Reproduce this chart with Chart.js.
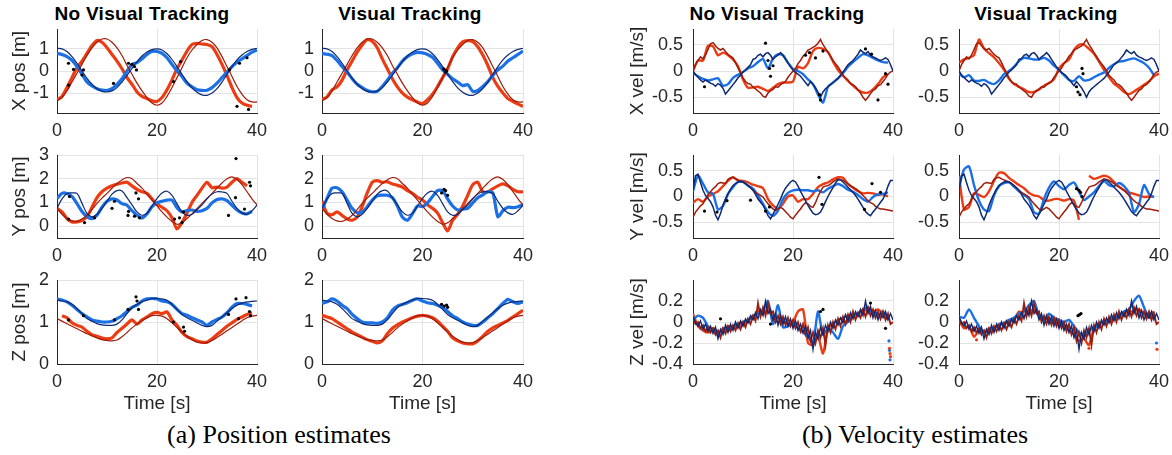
<!DOCTYPE html>
<html>
<head>
<meta charset="utf-8">
<script src="https://cdn.jsdelivr.net/npm/chart.js@4.4.1/dist/chart.umd.min.js"></script>
<style>
    body { margin: 0; background: #fff; width: 1172px; height: 455px; position: relative; overflow: hidden; }
    canvas { position: absolute; }
    .titulo { position: absolute; width: 300px; text-align: center; font: bold 19px "Liberation Sans", Arial, sans-serif; color: #000; line-height: 22px; letter-spacing: 0.3px; }
    .legenda { position: absolute; width: 400px; text-align: center; font: 26px "Liberation Serif", "Times New Roman", serif; color: #000; line-height: 28px; }
</style>
</head>
<body>
<div class="titulo" style="left:-8px;top:3px">No Visual Tracking</div>
<div class="titulo" style="left:260px;top:3px">Visual Tracking</div>
<div class="titulo" style="left:627px;top:3px">No Visual Tracking</div>
<div class="titulo" style="left:896px;top:3px">Visual Tracking</div>
<div class="legenda" style="left:79px;top:421px">(a) Position estimates</div>
<div class="legenda" style="left:715px;top:421px">(b) Velocity estimates</div>
<script>
// sample times (s)
var tempo1 = [];
for (var i = 0; i <= 40; i++) tempo1.push(i);
var tempo05 = [];
for (var j = 0; j <= 80; j++) tempo05.push(j / 2);

var xTicks = [0, 20, 40];

// ---------- position: ground truth (1 s) ----------
var posXTruthR = [-1.35,-1.2,-0.9,-0.5,-0.1,0.3,0.7,1.05,1.3,1.45,
    1.45,1.3,1.05,0.7,0.25,-0.15,-0.55,-0.9,-1.2,-1.45,
    -1.55,-1.45,-1.15,-0.75,-0.3,0.15,0.6,0.95,1.2,1.38,
    1.42,1.3,1.05,0.65,0.2,-0.25,-0.7,-1.05,-1.3,-1.4,
    -1.4];
var posXTruthB = [1.03,1.0,0.88,0.65,0.35,0.0,-0.33,-0.6,-0.8,-0.92,
    -0.95,-0.9,-0.75,-0.5,-0.2,0.12,0.42,0.68,0.86,0.97,
    1.0,0.95,0.78,0.52,0.2,-0.15,-0.48,-0.76,-0.96,-1.08,
    -1.1,-1.0,-0.8,-0.5,-0.15,0.2,0.5,0.72,0.88,0.98,
    1.03];
var posYTruthR = [0.75,0.5,0.32,0.22,0.2,0.3,0.46,0.7,0.96,1.18,
    1.38,1.6,1.8,1.95,2.05,2.0,1.8,1.6,1.35,1.1,
    0.85,0.6,0.38,0.2,0.08,0.14,0.32,0.52,0.75,0.96,
    1.17,1.38,1.6,1.82,2.0,2.08,1.97,1.75,1.45,1.15,
    0.89];
var posYTruthB = [0.75,1.15,1.38,1.4,1.38,0.96,0.54,0.39,0.5,0.75,
    1.05,1.35,1.5,1.48,1.2,0.9,0.6,0.46,0.55,0.85,
    1.17,1.4,1.47,1.3,0.95,0.6,0.46,0.5,0.7,0.9,
    1.15,1.35,1.45,1.44,1.38,1.05,0.75,0.56,0.5,0.65,
    0.89];
var posZTruthR = [1.08,1.02,0.96,0.9,0.84,0.78,0.72,0.67,0.62,0.58,
    0.56,0.55,0.57,0.65,0.75,0.86,0.95,1.03,1.1,1.15,
    1.16,1.14,1.08,0.98,0.87,0.76,0.66,0.58,0.52,0.5,
    0.51,0.56,0.63,0.71,0.79,0.87,0.95,1.03,1.1,1.14,
    1.16];
var posZTruthB = [1.52,1.5,1.48,1.42,1.32,1.2,1.08,1.02,0.96,0.93,
    0.92,0.92,0.95,1.05,1.2,1.34,1.42,1.48,1.52,1.56,
    1.56,1.55,1.52,1.42,1.3,1.18,1.1,1.04,0.98,0.92,
    0.89,0.92,1.02,1.12,1.22,1.32,1.4,1.45,1.48,1.49,
    1.5];

// ---------- position: estimates, no visual tracking (1 s) ----------
var posXnvR = [-1.3,-1.15,-0.75,-0.3,0.15,0.45,0.8,1.15,1.38,1.3,
    1.05,0.75,0.45,0.1,-0.3,-0.6,-0.95,-1.15,-1.25,-1.35,
    -1.38,-1.2,-0.85,-0.4,0.1,0.5,0.9,1.2,1.25,1.22,
    1.2,1.1,0.75,0.3,-0.2,-0.75,-1.2,-1.45,-1.55,-1.6,
    null];
var posXnvB = [0.8,0.75,0.65,0.48,0.2,-0.15,-0.5,-0.68,-0.8,-0.86,
    -0.88,-0.8,-0.6,-0.35,0.0,0.3,0.38,0.55,0.75,0.88,
    0.88,0.8,0.6,0.3,0.0,-0.25,-0.55,-0.72,-0.85,-0.88,
    -0.87,-0.75,-0.55,-0.3,-0.05,0.2,0.4,0.55,0.7,0.85,
    0.95];
var posYnvR = [0.75,0.6,0.32,0.18,0.18,0.25,0.39,0.8,1.2,1.45,
    1.6,1.7,1.77,1.82,1.85,1.7,1.55,1.45,1.38,1.15,
    0.92,0.8,0.65,0.35,-0.12,0.15,0.55,1.0,1.3,1.6,
    1.85,1.62,1.65,1.6,1.65,1.85,2.0,1.85,1.7,null,
    null];
var posYnvB = [1.17,1.38,1.38,1.25,0.95,0.62,0.4,0.32,0.46,0.8,
    1.05,1.15,1.1,0.95,0.88,0.65,0.46,0.35,0.52,0.82,
    0.98,1.05,1.1,1.1,0.78,0.6,0.66,0.68,0.62,0.65,
    0.75,0.98,1.12,1.15,1.08,0.88,0.68,0.55,0.52,0.62,
    null];
var posZnvR = [null,1.15,1.1,0.98,0.92,0.88,0.78,0.7,0.66,0.62,
    0.6,0.62,0.75,0.85,0.95,1.05,0.95,1.05,1.12,1.2,
    1.23,1.2,1.24,1.05,0.92,0.75,0.65,0.6,0.55,0.52,
    0.52,0.6,0.7,0.8,0.9,0.98,1.06,1.12,1.18,1.22,
    null];
var posZnvB = [1.55,1.52,1.48,1.4,1.3,1.2,1.12,1.05,1.02,1.0,
    1.0,1.02,1.08,1.15,1.25,1.35,1.4,1.5,1.55,1.56,
    1.55,1.5,1.48,1.42,1.3,1.2,1.16,1.1,1.05,1.0,
    0.92,1.0,1.06,1.12,1.22,1.35,1.44,1.44,1.42,1.38,
    null];

// ---------- position: estimates, visual tracking (1 s) ----------
var posXvtR = [-1.29,-1.17,-0.85,-0.72,-0.41,0.05,0.45,0.85,1.18,1.42,
    1.35,1.05,0.55,0.1,-0.35,-0.72,-1.0,-1.18,-1.3,-1.4,
    -1.47,-1.3,-1.05,-0.7,-0.3,0.1,0.65,1.05,1.32,1.37,
    1.33,1.1,0.72,0.25,-0.3,-0.7,-1.0,-1.25,-1.38,-1.5,
    -1.6];
var posXvtB = [0.8,0.76,0.7,0.48,0.2,-0.05,-0.35,-0.6,-0.75,-0.88,
    -0.94,-0.92,-0.7,-0.42,-0.1,0.15,0.45,0.65,0.78,0.84,
    0.82,0.75,0.62,0.35,0.05,-0.15,-0.35,-0.5,-0.66,-0.62,
    -0.92,-0.88,-0.7,-0.48,-0.2,0.05,0.22,0.45,0.6,0.75,
    0.9];
var posYvtR = [1.05,0.55,0.48,0.6,0.45,0.3,0.25,0.38,0.82,1.4,
    1.85,1.92,1.85,1.87,1.78,1.72,1.65,1.5,1.38,1.22,
    1.1,0.9,0.75,0.55,0.15,-0.2,0.25,0.5,0.85,1.3,
    1.75,1.85,1.45,1.45,1.58,1.7,1.78,1.7,1.55,1.45,
    1.45];
var posYvtB = [0.7,1.17,1.6,1.62,1.45,1.1,0.75,0.56,0.6,0.82,
    1.1,1.28,1.31,1.3,1.2,0.85,0.38,0.25,0.52,0.85,
    0.82,0.98,1.25,1.5,1.5,1.15,0.85,0.68,0.72,0.75,
    0.98,1.2,1.32,1.45,1.4,0.4,0.65,0.8,0.78,0.82,
    0.9];
var posZvtR = [1.16,1.12,1.08,1.0,0.92,0.84,0.76,0.7,0.64,0.58,
    0.54,0.5,0.55,0.72,0.85,0.93,1.0,1.05,1.1,1.14,
    1.16,1.14,1.1,1.02,0.9,0.78,0.62,0.55,0.5,0.48,
    0.48,0.55,0.66,0.78,0.86,0.92,0.98,1.04,1.12,1.2,
    1.28];
var posZvtB = [1.44,1.48,1.55,1.5,1.4,1.32,1.18,1.08,1.0,0.98,
    0.98,0.97,1.0,1.1,1.28,1.38,1.42,1.46,1.52,1.55,
    1.5,1.46,1.44,1.4,1.34,1.25,1.15,1.08,1.0,0.95,
    0.92,0.92,1.0,1.1,1.2,1.32,1.44,1.54,1.48,1.44,
    1.48];

// ---------- velocity: ground truth (0.5 s) ----------
var velXTruthR = [0,0.12,0.2,0.27,0.23,0.3,0.41,0.52,0.54,0.48,
    0.43,0.4,0.43,0.37,0.32,0.28,0.25,0.16,0.06,-0.03,
    -0.13,-0.2,-0.24,-0.25,-0.31,-0.34,-0.38,-0.42,-0.48,-0.5,
    -0.42,-0.38,-0.35,-0.3,-0.31,-0.26,-0.23,-0.2,-0.12,-0.06,
    0.0,0.05,0.14,0.2,0.28,0.33,0.4,0.42,0.45,0.48,
    0.53,0.6,0.5,0.43,0.35,0.28,0.2,0.14,0.08,0.0,
    -0.08,-0.13,-0.17,-0.24,-0.26,-0.3,-0.36,-0.42,-0.5,-0.56,
    -0.5,-0.43,-0.37,-0.34,-0.28,-0.26,-0.2,-0.14,-0.06,-0.02,
    0.0];
var velXTruthB = [0,-0.07,-0.12,-0.17,-0.21,-0.17,-0.2,-0.23,-0.25,-0.29,
    -0.24,-0.27,-0.33,-0.44,-0.38,-0.32,-0.26,-0.2,-0.13,-0.08,
    -0.02,0.02,0.07,0.12,0.22,0.24,0.3,0.32,0.27,0.33,
    0.35,0.3,0.22,0.27,0.3,0.35,0.3,0.22,0.15,0.08,
    0.02,-0.03,-0.06,-0.1,-0.16,-0.22,-0.28,-0.2,-0.26,-0.32,
    -0.4,-0.5,-0.4,-0.34,-0.3,-0.26,-0.22,-0.18,-0.14,-0.08,
    -0.02,0.05,0.12,0.16,0.2,0.26,0.32,0.4,0.36,0.33,
    0.37,0.3,0.27,0.25,0.22,0.2,0.22,0.25,0.22,0.12,
    0.0];
var velYTruthR = [-0.4,-0.3,-0.24,-0.18,-0.14,-0.05,0.04,0.09,0.15,0.19,
    0.25,0.27,0.26,0.25,0.33,0.36,0.37,0.34,0.32,0.3,
    0.28,0.25,0.21,0.17,0.12,0.08,0.05,0.02,-0.01,-0.08,
    -0.14,-0.19,-0.24,-0.27,-0.24,-0.21,-0.24,-0.29,-0.34,-0.4,
    -0.43,-0.36,-0.3,-0.24,-0.17,-0.12,-0.14,-0.19,-0.21,-0.12,
    0.0,0.1,0.18,0.2,0.21,0.24,0.28,0.31,0.34,0.33,
    0.31,0.28,0.25,0.21,0.18,0.15,0.12,0.07,0.02,-0.03,
    -0.08,-0.12,-0.14,-0.19,-0.22,-0.24,-0.24,-0.25,-0.26,-0.27,
    -0.28];
var velYTruthB = [0.12,0.4,0.43,0.27,0.12,0.02,-0.04,-0.1,-0.2,-0.36,
    -0.45,-0.33,-0.17,-0.05,0.05,0.14,0.21,0.25,0.28,0.29,
    0.28,0.25,0.21,0.17,0.12,0.04,-0.05,-0.11,-0.17,-0.26,
    -0.37,-0.43,-0.34,-0.25,-0.15,-0.05,0.07,0.16,0.22,0.28,
    0.31,0.28,0.2,0.1,0.01,-0.08,-0.17,-0.25,-0.32,-0.35,
    -0.34,-0.3,-0.21,-0.1,0.0,0.09,0.17,0.26,0.32,0.32,
    0.28,0.23,0.18,0.13,0.08,0.02,-0.05,-0.13,-0.21,-0.29,
    -0.34,-0.37,-0.3,-0.24,-0.18,-0.11,-0.05,0.06,0.2,0.31,
    0.31];
var velZTruthR = [0.03,-0.02,0.0,-0.06,-0.03,-0.09,-0.05,-0.1,-0.06,-0.12,
    -0.08,-0.15,-0.06,-0.11,-0.04,-0.09,-0.03,-0.08,-0.01,-0.07,
    0.0,-0.05,0.03,-0.02,0.06,0.01,0.18,0.05,0.14,0.06,
    0.18,0.08,0.1,0.0,0.06,-0.02,0.05,-0.03,0.04,-0.04,
    0.02,-0.06,0.0,-0.09,-0.02,-0.12,-0.05,-0.18,-0.1,-0.2,
    -0.08,-0.15,-0.06,-0.22,-0.03,-0.1,0.0,-0.07,0.03,-0.04,
    0.05,-0.02,0.07,0.0,0.1,0.02,0.09,0.04,0.12,0.05,
    0.14,0.06,0.12,0.04,0.1,0.03,0.1,0.02,0.08,-0.02,
    0.0];
var velZTruthB = [0.05,0.0,-0.04,0.01,-0.07,-0.02,-0.09,-0.04,-0.11,-0.05,
    -0.16,-0.07,-0.12,-0.03,-0.1,-0.02,-0.08,0.0,-0.06,0.01,
    -0.04,0.03,-0.01,0.06,0.02,0.09,0.03,0.12,0.06,0.2,
    0.08,0.12,0.02,0.08,-0.03,0.06,-0.02,0.05,-0.04,0.03,
    -0.06,0.01,-0.08,-0.02,-0.1,-0.04,-0.15,-0.08,-0.26,-0.1,
    -0.16,-0.05,-0.12,-0.03,-0.09,0.0,-0.06,0.02,-0.03,0.04,
    -0.01,0.07,0.01,0.09,0.03,0.1,0.05,0.12,0.06,0.2,
    0.08,0.15,0.04,0.11,0.02,0.09,0.04,0.1,0.02,0.08,
    0.02];

// ---------- velocity: estimates, no visual tracking (1 s) ----------
var velXnvR = [0.0,0.2,0.2,0.48,0.47,0.3,0.35,0.3,0.22,0.09,
    -0.16,-0.32,-0.31,-0.3,-0.34,-0.38,-0.32,-0.25,-0.22,-0.22,
    -0.2,0.08,0.05,0.15,0.38,0.44,0.42,0.36,0.18,0.02,
    -0.09,-0.19,-0.28,-0.36,-0.41,-0.41,-0.35,-0.25,-0.12,-0.06,
    null];
var velXnvB = [-0.03,-0.1,-0.15,-0.18,-0.16,-0.14,-0.28,-0.25,-0.13,-0.07,
    -0.02,0.05,0.09,0.17,0.23,0.05,0.24,0.32,0.3,0.16,
    0.04,0.0,-0.06,-0.16,-0.25,-0.45,-0.6,-0.3,-0.22,-0.14,
    -0.04,0.08,0.17,0.25,0.32,0.3,0.25,0.2,0.17,0.16,
    null];
var velYnvR = [-0.12,-0.05,-0.1,0.0,0.05,0.1,0.2,0.3,0.37,0.31,
    0.3,0.27,0.23,0.2,0.16,-0.05,-0.17,-0.23,-0.14,0.0,
    0.02,-0.1,-0.05,-0.05,0.05,0.18,0.24,0.27,0.33,0.37,
    0.36,0.24,0.17,0.1,0.06,0.07,0.06,0.03,0.04,0.0,
    null];
var velYnvB = [0.1,0.4,0.25,0.08,0.05,-0.25,-0.18,0.05,0.18,0.28,
    0.28,0.21,0.15,0.02,-0.14,-0.3,-0.37,-0.27,-0.05,0.07,
    0.12,0.13,0.12,0.12,0.1,0.12,0.08,0.15,0.2,0.24,
    0.2,0.13,0.09,0.03,-0.05,-0.1,-0.01,0.04,0.05,0.08,
    null];
var velZnvR = [0.08,-0.04,-0.08,-0.1,-0.06,-0.1,-0.08,-0.04,-0.06,-0.02,
    -0.03,0.02,0.04,0.1,0.08,0.12,0.04,0.0,0.02,-0.02,
    0.0,0.1,0.12,-0.2,-0.22,-0.14,-0.3,-0.06,-0.02,0.02,
    0.04,0.06,0.06,0.08,0.1,0.12,0.1,0.12,0.08,0.04,
    null];
var velZnvB = [0.02,0.06,0.04,-0.04,-0.08,-0.12,-0.06,-0.08,-0.04,-0.02,
    0.0,0.02,0.06,0.08,0.1,0.2,-0.02,0.16,-0.05,-0.04,
    -0.02,-0.06,-0.1,-0.14,-0.2,0.1,-0.12,-0.06,-0.1,-0.16,
    -0.04,0.0,0.06,0.08,0.12,0.14,0.08,0.06,0.1,0.02,
    null];

// ---------- velocity: estimates, visual tracking (1 s) ----------
var velXvtR = [0.16,0.22,0.25,0.3,0.6,0.43,0.34,0.26,0.15,0.02,
    -0.15,-0.25,-0.3,-0.35,-0.4,-0.4,-0.35,-0.28,-0.23,-0.16,
    0.05,0.15,0.22,0.4,0.5,0.5,0.42,0.33,0.18,0.02,
    -0.12,-0.24,-0.31,-0.4,-0.44,-0.39,-0.33,-0.26,-0.2,-0.1,
    -0.05];
var velXvtB = [-0.05,-0.12,-0.08,-0.18,-0.19,-0.17,-0.22,-0.25,-0.18,-0.06,
    0.0,0.08,0.19,0.25,0.24,0.22,0.22,0.25,0.2,0.1,
    0.02,-0.08,-0.17,-0.19,-0.1,-0.18,-0.17,-0.12,-0.07,-0.03,
    0.06,0.13,0.18,0.19,0.22,0.24,0.2,0.15,0.06,-0.08,
    null];
var velYvtR = [0.4,-0.25,-0.2,0.06,0.03,-0.01,0.1,0.3,0.46,0.45,
    0.36,0.29,0.22,0.16,0.07,0.02,0.0,-0.07,-0.08,-0.05,
    -0.05,-0.08,-0.05,-0.08,-0.45,null,0.4,0.34,0.37,0.4,
    0.37,0.28,0.19,0.12,0.08,0.05,0.02,-0.01,0.0,-0.01,
    null];
var velYvtB = [0.18,0.52,0.58,0.22,-0.08,-0.25,-0.28,0.02,0.2,0.26,
    0.27,0.19,0.1,0.03,-0.05,-0.3,-0.33,-0.05,0.17,0.29,
    0.2,0.14,0.22,0.27,0.1,-0.07,0.0,0.08,0.2,0.3,
    0.22,0.2,0.26,0.2,0.07,-0.3,-0.15,0.22,0.05,-0.01,
    null];
var velZvtR = [0.02,-0.06,-0.04,-0.14,-0.08,-0.1,-0.06,-0.06,-0.03,-0.02,
    0.0,0.02,0.1,0.06,0.1,0.12,0.06,0.04,0.02,0.0,
    -0.02,-0.04,-0.08,-0.12,-0.18,-0.16,-0.22,-0.06,-0.02,0.0,
    0.02,0.04,0.06,0.08,0.1,0.1,0.12,0.08,0.06,0.1,
    null];
var velZvtB = [0.05,0.04,0.12,0.04,-0.04,-0.1,-0.08,-0.06,-0.02,-0.01,
    0.02,0.04,0.08,0.1,0.16,0.2,0.06,0.02,0.08,0.04,
    0.02,0.0,0.02,-0.04,-0.1,-0.12,-0.08,-0.06,-0.02,0.0,
    0.02,0.04,0.06,0.1,0.12,0.2,0.25,0.14,0.04,0.08,
    null];

// ---------- loose points [t, value] ----------
var blackPosXnv = [[2.3,0.35],[2.3,-0.64],[3.3,0.07],[5,-0.18],[5.3,0.05],[11.3,-0.56],[14.3,0.35],[15,0.3],[15.5,0.2],[15.9,0.05],[23.3,-0.48],[24.7,0.42],[34.5,0.05],[36,-1.6],[38.3,-1.74],[38,0.6],[36.5,0.35]];
var blackPosXvt = [[24.2,0.1],[24.4,0.05],[24.6,-0.05],[24.8,0.0]];
var blackPosYnv = [[2.3,0.3],[2.5,1.25],[5.5,0.15],[7.5,0.35],[11,0.75],[11.5,1.05],[14.2,0.45],[14.3,0.62],[15.5,0.42],[15.8,1.4],[16.3,1.15],[16.5,0.35],[23.5,0.3],[24.5,0.35],[25,0.15],[25.3,0.6],[34.3,0.45],[35.7,1.2],[35.8,2.85],[37.5,0.72],[38.5,1.85],[38.7,1.7]];
var blackPosYvt = [[23.8,1.4],[24.3,1.55],[24.6,1.5],[25,1.3]];
var blackPosZnv = [[2.3,1.05],[5.3,1.15],[11.5,1.05],[14.2,1.3],[15.8,1.6],[16,1.5],[16.3,1.3],[23.3,1.0],[25.3,0.88],[25.5,0.78],[34.3,1.18],[35.8,1.55],[36.3,1.08],[37.8,1.58],[38.5,1.25],[38.7,1.15]];
var blackPosZvt = [[23.8,1.42],[24.3,1.38],[24.8,1.4],[25,1.35]];
var blackVelXnv = [[2.3,-0.3],[14.5,0.53],[15,0.2],[15.3,0.05],[15.5,-0.1],[16,0.1],[22.5,0.3],[23.3,0.35],[24.5,0.25],[25.3,-0.45],[25.5,-0.55],[26,0.38],[34.5,0.42],[35.7,0.32],[37,-0.55],[38.5,-0.05],[39,-0.25]];
var blackVelXvt = [[23.5,-0.3],[23.8,-0.4],[24.2,-0.45],[24.6,0.05],[24.8,-0.05]];
var blackVelYnv = [[2.3,-0.28],[4.8,-0.3],[6.8,-0.08],[11.5,-0.07],[14.5,-0.28],[15.3,-0.2],[25.2,0.37],[25.8,-0.15],[34.3,-0.25],[35.8,0.25],[37.5,0.08]];
var blackVelYvt = [[23.5,0.15],[24,0.12],[24.3,0.08],[24.6,0.0]];
var blackVelZnv = [[5.5,0.03],[15.5,-0.02],[25.5,0.1],[26,0.12],[35.5,0.18],[38.5,-0.06]];
var blackVelZvt = [[23.8,0.06],[24.1,0.07],[24.4,0.08]];
var dotsVelZnvR = [[39.3,-0.25],[39.4,-0.3],[39.5,-0.33]];
var dotsVelZnvB = [[39.2,-0.18],[39.3,-0.27],[39.4,-0.36]];
var dotsVelZvtR = [[3.5,-0.17],[26,-0.25],[39.6,-0.26]];
var dotsVelZvtB = [[39.5,-0.2]];

// ---------- styles ----------
var COR = { truthR: '#9e1c0a', truthB: '#0e2a72', estR: '#ec3c14', estB: '#1a70e4' };
var FONTE = '"Liberation Sans", Arial, sans-serif';
var TEXTO = '#262626';
var GRADE = '#e3e3e3';
var EIXO = '#262626';
var LINHAS = [{ T: 29, B: 113 }, { T: 155, B: 238 }, { T: 280, B: 364 }];

function pontos(tempos, valores) {
    return valores.map(function (v, k) { return { x: tempos[k], y: v }; });
}

function pares(lista) {
    return lista.map(function (p) { return { x: p[0], y: p[1] }; });
}

function linha(dados, cor, largura, ordem, tensao) {
    return { data: dados, borderColor: cor, backgroundColor: cor, borderWidth: largura,
        pointRadius: 0, tension: tensao, spanGaps: false, order: ordem, fill: false };
}

function nuvem(dados, cor, raio, ordem) {
    return { data: dados, showLine: false, pointRadius: raio, pointBorderWidth: 0,
        pointBackgroundColor: cor, backgroundColor: cor, borderColor: cor, order: ordem };
}

function desenhaPainel(p) {
    var LM = p.LM, RM = 16, TM = 8;
    var BM = p.row === 2 ? 52 : 30;
    var caixa = LINHAS[p.row];
    var W = LM + (p.R - p.L) + RM;
    var H = TM + (caixa.B - caixa.T) + BM;
    var cv = document.createElement('canvas');
    cv.width = W;
    cv.height = H;
    cv.style.left = (p.L - LM) + 'px';
    cv.style.top = (caixa.T - TM) + 'px';
    cv.style.width = W + 'px';
    cv.style.height = H + 'px';
    document.body.appendChild(cv);

    var vel = p.vel;
    var zvel = vel && p.row === 2;
    var tTruth = vel ? tempo05 : tempo1;
    var datasets = [
        linha(pontos(tempo1, p.estR), COR.estR, vel ? 2.4 : 3.2, 5, 0.25),
        linha(pontos(tempo1, p.estB), COR.estB, vel ? 2.4 : 3.2, 4, 0.25),
        linha(pontos(tTruth, p.truR), COR.truthR, zvel ? 1.8 : (vel ? 1.5 : 1.2), 3, vel ? 0 : 0.35),
        linha(pontos(tTruth, p.truB), COR.truthB, zvel ? 1.4 : (vel ? 1.5 : 1.2), 2, vel ? 0 : 0.35),
        nuvem(pares(p.black), '#000', 1.6, 0)
    ];
    if (p.dotsR) datasets.push(nuvem(pares(p.dotsR), COR.estR, 1.6, 1));
    if (p.dotsB) datasets.push(nuvem(pares(p.dotsB), COR.estB, 1.6, 1));

    new Chart(cv, {
        type: 'line',
        data: { datasets: datasets },
        options: {
            responsive: false,
            animation: false,
            devicePixelRatio: 1,
            layout: { padding: { left: 0, right: RM, top: TM, bottom: 0 } },
            plugins: { legend: { display: false }, tooltip: { enabled: false }, title: { display: false } },
            scales: {
                x: {
                    type: 'linear', min: 0, max: 40,
                    afterBuildTicks: function (s) { s.ticks = xTicks.map(function (v) { return { value: v }; }); },
                    afterFit: function (s) { s.height = BM; s.paddingLeft = 0; s.paddingRight = 0; },
                    ticks: { color: TEXTO, font: { family: FONTE, size: 18 }, padding: 7, maxRotation: 0, autoSkip: false,
                        callback: function (v) { return String(v); } },
                    grid: { color: GRADE, drawTicks: false },
                    border: { display: true, color: EIXO, width: 1 },
                    title: { display: p.row === 2, text: 'Time [s]', color: TEXTO,
                        font: { family: FONTE, size: 19 }, padding: { top: 0, bottom: 1 } }
                },
                y: {
                    type: 'linear', min: p.ymin, max: p.ymax,
                    afterBuildTicks: function (s) { s.ticks = p.yticks.map(function (v) { return { value: v }; }); },
                    afterFit: function (s) { s.width = LM; s.paddingTop = 0; s.paddingBottom = 0; },
                    ticks: { color: TEXTO, font: { family: FONTE, size: 18 }, padding: vel ? 10 : 8, autoSkip: false,
                        callback: function (v) { return String(v); } },
                    grid: { color: GRADE, drawTicks: false },
                    border: { display: true, color: EIXO, width: 1 },
                    title: { display: !!p.ylabel, text: p.ylabel || '', color: TEXTO,
                        font: { family: FONTE, size: 19 }, padding: { top: p.ytp || 0, bottom: 0 } }
                }
            }
        }
    });
}

var posCol = [{ L: 57, R: 257, LM: 57, ytp: 8 }, { L: 322, R: 523, LM: 45 }];
var velCol = [{ L: 693, R: 893, LM: 67, ytp: 0 }, { L: 959, R: 1159, LM: 45 }];

var paineis = [
    { c: posCol[0], row: 0, ymin: -1.9, ymax: 1.9, yticks: [-1, 0, 1], ylabel: 'X pos [m]', truR: posXTruthR, truB: posXTruthB, estR: posXnvR, estB: posXnvB, black: blackPosXnv },
    { c: posCol[1], row: 0, ymin: -1.9, ymax: 1.9, yticks: [-1, 0, 1], truR: posXTruthR, truB: posXTruthB, estR: posXvtR, estB: posXvtB, black: blackPosXvt },
    { c: posCol[0], row: 1, ymin: -0.5, ymax: 3, yticks: [0, 1, 2, 3], ylabel: 'Y pos [m]', truR: posYTruthR, truB: posYTruthB, estR: posYnvR, estB: posYnvB, black: blackPosYnv },
    { c: posCol[1], row: 1, ymin: -0.5, ymax: 3, yticks: [0, 1, 2, 3], truR: posYTruthR, truB: posYTruthB, estR: posYvtR, estB: posYvtB, black: blackPosYvt },
    { c: posCol[0], row: 2, ymin: 0, ymax: 2, yticks: [0, 1, 2], ylabel: 'Z pos [m]', truR: posZTruthR, truB: posZTruthB, estR: posZnvR, estB: posZnvB, black: blackPosZnv },
    { c: posCol[1], row: 2, ymin: 0, ymax: 2, yticks: [0, 1, 2], truR: posZTruthR, truB: posZTruthB, estR: posZvtR, estB: posZvtB, black: blackPosZvt },
    { c: velCol[0], vel: true, row: 0, ymin: -0.8, ymax: 0.8, yticks: [-0.5, 0, 0.5], ylabel: 'X vel [m/s]', truR: velXTruthR, truB: velXTruthB, estR: velXnvR, estB: velXnvB, black: blackVelXnv },
    { c: velCol[1], vel: true, row: 0, ymin: -0.8, ymax: 0.8, yticks: [-0.5, 0, 0.5], truR: velXTruthR, truB: velXTruthB, estR: velXvtR, estB: velXvtB, black: blackVelXvt },
    { c: velCol[0], vel: true, row: 1, ymin: -0.8, ymax: 0.8, yticks: [-0.5, 0, 0.5], ylabel: 'Y vel [m/s]', truR: velYTruthR, truB: velYTruthB, estR: velYnvR, estB: velYnvB, black: blackVelYnv },
    { c: velCol[1], vel: true, row: 1, ymin: -0.8, ymax: 0.8, yticks: [-0.5, 0, 0.5], truR: velYTruthR, truB: velYTruthB, estR: velYvtR, estB: velYvtB, black: blackVelYvt },
    { c: velCol[0], vel: true, row: 2, ymin: -0.4, ymax: 0.4, yticks: [-0.4, -0.2, 0, 0.2], ylabel: 'Z vel [m/s]', truR: velZTruthR, truB: velZTruthB, estR: velZnvR, estB: velZnvB, black: blackVelZnv, dotsR: dotsVelZnvR, dotsB: dotsVelZnvB },
    { c: velCol[1], vel: true, row: 2, ymin: -0.4, ymax: 0.4, yticks: [-0.4, -0.2, 0, 0.2], truR: velZTruthR, truB: velZTruthB, estR: velZvtR, estB: velZvtB, black: blackVelZvt, dotsR: dotsVelZvtR, dotsB: dotsVelZvtB }
];

paineis.forEach(function (p) {
    p.L = p.c.L; p.R = p.c.R; p.LM = p.c.LM; p.ytp = p.c.ytp;
    desenhaPainel(p);
});
</script>
</body>
</html>
